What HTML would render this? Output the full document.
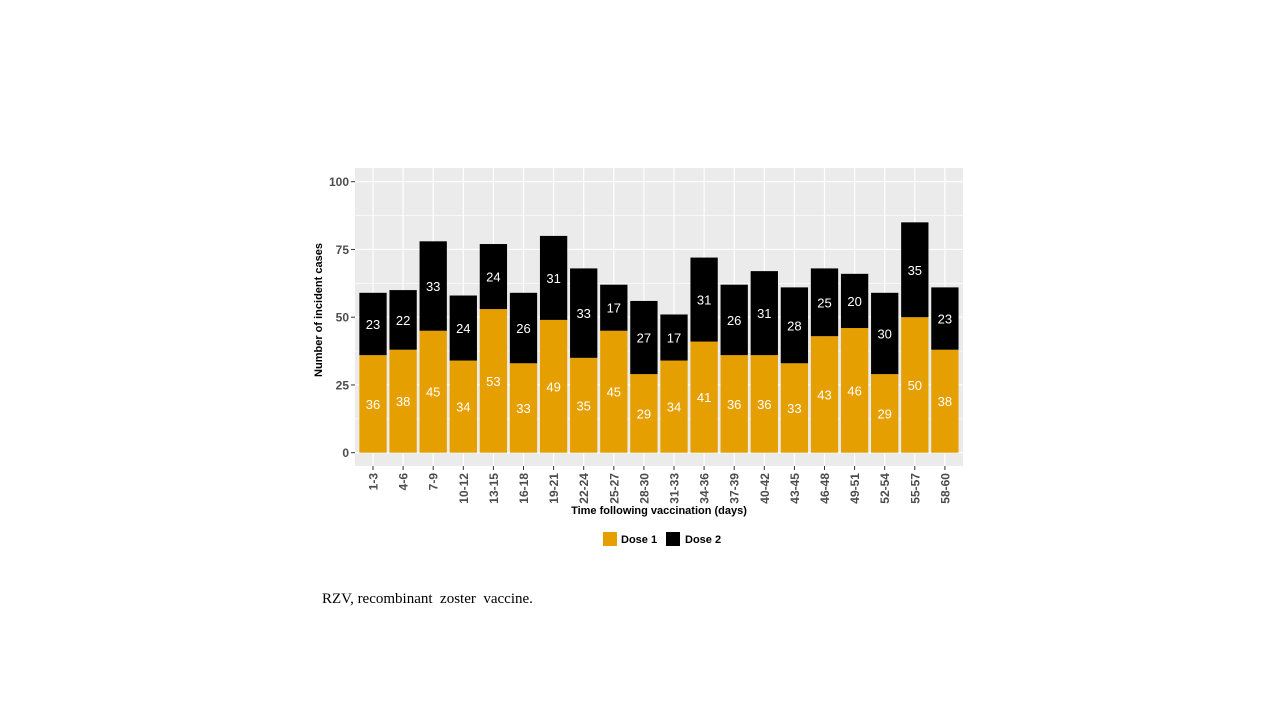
<!DOCTYPE html>
<html><head><meta charset="utf-8"><style>
body{margin:0;background:#fff;width:1280px;height:720px;overflow:hidden}
svg{display:block}
</style></head><body>
<svg id="chart" width="1280" height="720" font-family="Liberation Sans, sans-serif">
<rect x="355" y="168" width="608" height="298" fill="#ebebeb"/>
<g id="grid"></g><g id="bars"></g><g id="axes"></g>
<text x="322" y="310" transform="rotate(-90 322 310)" text-anchor="middle" font-size="11" font-weight="bold" fill="#000">Number of incident cases</text>
<text x="659" y="514" text-anchor="middle" font-size="11" font-weight="bold" fill="#000">Time following vaccination (days)</text>
<g>
<g><rect x="603" y="532" width="14" height="14" fill="#e69f00"/><text x="621" y="543" font-size="11" font-weight="bold">Dose 1</text></g>
<g><rect x="666" y="532" width="14" height="14" fill="#000"/><text x="685" y="543" font-size="11" font-weight="bold">Dose 2</text></g>
</g>
<text x="322" y="603" font-family="Liberation Serif, serif" font-size="15" fill="#000" xml:space="preserve">RZV, recombinant  zoster  vaccine.</text>
</svg>
<script>
const categories=["1-3","4-6","7-9","10-12","13-15","16-18","19-21","22-24","25-27","28-30","31-33","34-36","37-39","40-42","43-45","46-48","49-51","52-54","55-57","58-60"];
const dose1=[36,38,45,34,53,33,49,35,45,29,34,41,36,36,33,43,46,29,50,38];
const dose2=[23,22,33,24,24,26,31,33,17,27,17,31,26,31,28,25,20,30,35,23];
const yTicks=[0,25,50,75,100];
const NS="http://www.w3.org/2000/svg";
const y0=452.7,y100=181.7;
const yS=v=>y0+(y100-y0)*v/100;
const xC=i=>373+i*30.1;
const bw=27.3;
function mk(tag,attrs,parent){const e=document.createElementNS(NS,tag);for(const k in attrs)e.setAttribute(k,attrs[k]);parent.appendChild(e);return e;}
const grid=document.getElementById('grid'),bars=document.getElementById('bars'),axes=document.getElementById('axes');
for(let v=-12.5;v<=112.5;v+=12.5){const y=yS(v);if(y<168||y>466)continue;const major=yTicks.includes(v);
const l=mk('line',{x1:355,x2:963,y1:y,y2:y,stroke:'#fff','stroke-width':major?1.2:0.6},grid);

}
categories.forEach((c,i)=>{const l=mk('line',{x1:xC(i),x2:xC(i),y1:168,y2:466,stroke:'#fff','stroke-width':1.2},grid);

});
yTicks.forEach(v=>{const y=yS(v);
mk('line',{x1:351,x2:355,y1:y,y2:y,stroke:'#333'},axes);
const t=mk('text',{x:349,y:y+4.5,'text-anchor':'end','font-size':12,'font-weight':'bold',fill:'#4d4d4d'},axes);t.textContent=v;

});
categories.forEach((c,i)=>{const x=xC(i);
const a=yS(0),b=yS(dose1[i]),d=yS(dose1[i]+dose2[i]);
const r1=mk('rect',{x:x-bw/2,y:b,width:bw,height:a-b,fill:'#e69f00'},bars);


const r2=mk('rect',{x:x-bw/2,y:d,width:bw,height:b-d,fill:'#000'},bars);


const t1=mk('text',{x:x,y:(a+b)/2+5,'text-anchor':'middle','font-size':13,fill:'#fff'},bars);t1.textContent=dose1[i];


const t2=mk('text',{x:x,y:(b+d)/2+5,'text-anchor':'middle','font-size':13,fill:'#fff'},bars);t2.textContent=dose2[i];


mk('line',{x1:x,x2:x,y1:466,y2:470,stroke:'#333'},axes);
const tl=mk('text',{x:x+4.5,y:473,transform:`rotate(-90 ${x+4.5} 473)`,'text-anchor':'end','font-size':12,'font-weight':'bold',fill:'#4d4d4d'},axes);tl.textContent=c;

});
</script>
</body></html>
